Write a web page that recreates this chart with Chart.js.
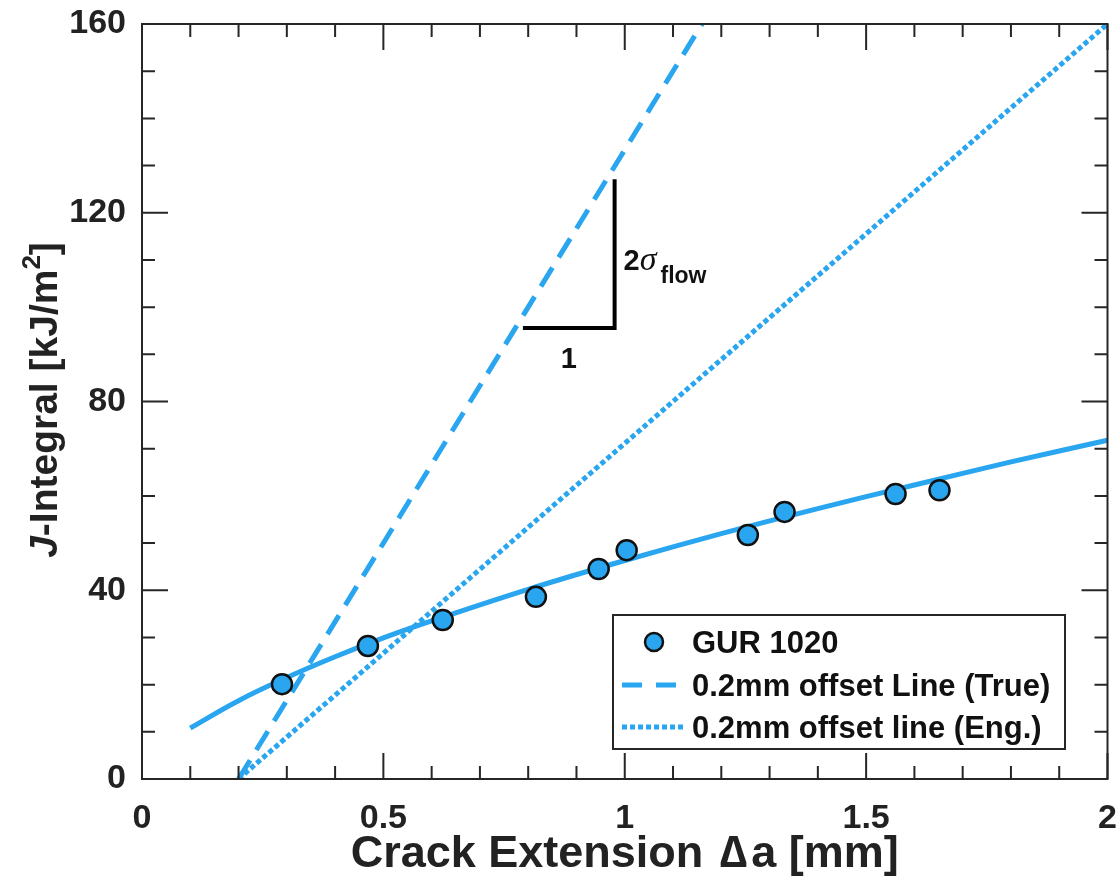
<!DOCTYPE html>
<html>
<head>
<meta charset="utf-8">
<script src="https://cdn.jsdelivr.net/npm/chart.js@4.4.1/dist/chart.umd.min.js"></script>
<style>
  html, body { margin: 0; padding: 0; background: #fff; }
  #wrap { width: 1120px; height: 890px; }
</style>
</head>
<body>
<div id="wrap"><canvas id="jr" width="1120" height="890"></canvas></div>
<script>
// measured points (GUR 1020)
const crackExt = [0.29, 0.468, 0.623, 0.816, 0.946, 1.004, 1.255, 1.331, 1.561, 1.652];
const jValues = [20.1, 28.2, 33.7, 38.6, 44.5, 48.5, 51.7, 56.6, 60.4, 61.2];

// fitted J-R curve
const fitX = [0.1, 0.2, 0.3, 0.4, 0.5, 0.6, 0.8, 1.0, 1.2, 1.4, 1.6, 1.8, 2.0];
const fitJ = [10.8, 16.6, 21.5, 25.9, 29.9, 33.5, 40.2, 46.3, 52.0, 57.3, 62.3, 67.2, 71.8];

// offset lines
const trueX = [0.2, 1.16];
const trueJ = [0, 160];
const engX = [0.2, 2.0];
const engJ = [0, 160];

// slope triangle
const triX = [0.789, 0.979, 0.979];
const triJ = [95.6, 95.6, 127.1];

const xTicks = [0, 0.5, 1, 1.5, 2];
const yTicks = [0, 40, 80, 120, 160];
const xMinor = [0.1, 0.2, 0.3, 0.4, 0.6, 0.7, 0.8, 0.9, 1.1, 1.2, 1.3, 1.4, 1.6, 1.7, 1.8, 1.9];
const yMinor = [10, 20, 30, 50, 60, 70, 90, 100, 110, 130, 140, 150];

const legendLabels = ['GUR 1020', '0.2mm offset Line (True)', '0.2mm offset line (Eng.)'];

const blue = 'rgb(41, 166, 239)';
const axisCol = '#262626';
const FONT = '"Liberation Sans", Arial, sans-serif';

function pts(xs, ys) {
    return xs.map((x, i) => ({ x: x, y: ys[i] }));
}

const framePlugin = {
    id: 'frame',
    afterDatasetsDraw(chart) {
        const ctx = chart.ctx;
        const a = chart.chartArea;
        const xs = chart.scales.x, ys = chart.scales.y;
        ctx.save();
        ctx.strokeStyle = axisCol;
        ctx.lineWidth = 2;
        ctx.strokeRect(a.left, a.top, a.right - a.left, a.bottom - a.top);

        // inward ticks on all four sides
        ctx.beginPath();
        const tick = (v, len, isX) => {
            if (isX) {
                const p = xs.getPixelForValue(v);
                ctx.moveTo(p, a.bottom); ctx.lineTo(p, a.bottom - len);
                ctx.moveTo(p, a.top); ctx.lineTo(p, a.top + len);
            } else {
                const p = ys.getPixelForValue(v);
                ctx.moveTo(a.left, p); ctx.lineTo(a.left + len, p);
                ctx.moveTo(a.right, p); ctx.lineTo(a.right - len, p);
            }
        };
        xTicks.forEach(v => tick(v, 26, true));
        xMinor.forEach(v => tick(v, 13, true));
        yTicks.forEach(v => tick(v, 26, false));
        yMinor.forEach(v => tick(v, 13, false));
        ctx.stroke();

        // slope triangle labels
        ctx.fillStyle = '#111';
        ctx.textBaseline = 'alphabetic';
        ctx.textAlign = 'center';
        ctx.font = 'bold 29px ' + FONT;
        const midX = xs.getPixelForValue((triX[0] + triX[1]) / 2);
        ctx.fillText('1', midX, ys.getPixelForValue(triJ[0]) + 40);
        const vx = xs.getPixelForValue(triX[1]) + 9;
        const vy = ys.getPixelForValue((triJ[1] + triJ[2]) / 2) + 16;
        ctx.textAlign = 'left';
        ctx.fillText('2', vx, vy);
        let w = ctx.measureText('2').width;
        ctx.font = 'italic 34px "Liberation Serif", "Times New Roman", serif';
        ctx.fillText('\u03C3', vx + w, vy);
        w += ctx.measureText('\u03C3').width + 4;
        ctx.font = 'bold 23px ' + FONT;
        ctx.fillText('flow', vx + w, vy + 13);

        // legend
        const lx = 613, ly = 615, lw = 452, lh = 134;
        ctx.fillStyle = '#fff';
        ctx.fillRect(lx, ly, lw, lh);
        ctx.strokeStyle = axisCol;
        ctx.lineWidth = 2;
        ctx.strokeRect(lx, ly, lw, lh);
        const rows = [642, 685, 727];
        ctx.font = 'bold 31px ' + FONT;
        ctx.textBaseline = 'middle';
        ctx.textAlign = 'left';
        legendLabels.forEach((lab, i) => {
            const y = rows[i];
            if (i === 0) {
                ctx.beginPath();
                ctx.arc(654, y, 9, 0, Math.PI * 2);
                ctx.fillStyle = blue;
                ctx.fill();
                ctx.lineWidth = 2.5;
                ctx.strokeStyle = '#111';
                ctx.stroke();
            } else {
                ctx.beginPath();
                ctx.strokeStyle = blue;
                ctx.lineWidth = 5;
                ctx.setLineDash(i === 1 ? [20, 14] : [5, 3]);
                ctx.moveTo(622, y); ctx.lineTo(686, y);
                ctx.stroke();
                ctx.setLineDash([]);
            }
            ctx.fillStyle = '#111';
            ctx.fillText(lab, 692, y + 2);
        });

        // axis titles
        ctx.fillStyle = '#222';
        ctx.font = 'bold 45px ' + FONT;
        ctx.textAlign = 'left';
        ctx.textBaseline = 'alphabetic';
        const xParts = ['Crack Extension ', '\u2206', 'a [mm]'];
        const gap = 4;
        let tw = gap * 2;
        xParts.forEach(s => { tw += ctx.measureText(s).width; });
        let tx = (a.left + a.right) / 2 - tw / 2;
        xParts.forEach((s, i) => {
            ctx.fillText(s, tx, 867);
            tx += ctx.measureText(s).width + (i < 2 ? gap : 0);
        });

        ctx.translate(57, 400);
        ctx.rotate(-Math.PI / 2);
        const parts = [
            ['italic bold 39px ' + FONT, 'J', 0],
            ['bold 39px ' + FONT, '-Integral [kJ/m', 0],
            ['bold 26px ' + FONT, '2', -17],
            ['bold 39px ' + FONT, ']', 0]
        ];
        let total = 0;
        parts.forEach(p => { ctx.font = p[0]; total += ctx.measureText(p[1]).width; });
        let cx = -total / 2;
        ctx.textAlign = 'left';
        parts.forEach(p => {
            ctx.font = p[0];
            ctx.fillText(p[1], cx, p[2]);
            cx += ctx.measureText(p[1]).width;
        });
        ctx.restore();
    }
};

new Chart(document.getElementById('jr'), {
    type: 'scatter',
    data: {
        datasets: [
            {
                label: legendLabels[0],
                data: pts(crackExt, jValues),
                showLine: false,
                pointRadius: 10,
                pointBackgroundColor: blue,
                pointBorderColor: '#111',
                pointBorderWidth: 2.5
            },
            {
                label: 'fit',
                data: pts(fitX, fitJ),
                showLine: true,
                borderColor: blue,
                borderWidth: 5,
                pointRadius: 0,
                tension: 0.4
            },
            {
                label: 'triangle',
                data: pts(triX, triJ),
                showLine: true,
                borderColor: '#000',
                borderWidth: 4,
                pointRadius: 0,
                borderJoinStyle: 'miter'
            },
            {
                label: legendLabels[1],
                data: pts(trueX, trueJ),
                showLine: true,
                borderColor: blue,
                borderWidth: 5,
                borderDash: [22, 12],
                pointRadius: 0
            },
            {
                label: legendLabels[2],
                data: pts(engX, engJ),
                showLine: true,
                borderColor: blue,
                borderWidth: 5,
                borderDash: [5, 3],
                pointRadius: 0
            }
        ]
    },
    options: {
        responsive: false,
        animation: false,
        devicePixelRatio: 1,
        layout: { padding: { left: 0, right: 12, top: 24, bottom: 0 } },
        plugins: {
            legend: { display: false },
            tooltip: { enabled: false }
        },
        scales: {
            x: {
                type: 'linear',
                min: 0,
                max: 2,
                afterBuildTicks: s => { s.ticks = xTicks.map(v => ({ value: v })); },
                afterFit: s => { s.height = 111; s.paddingLeft = 0; s.paddingRight = 0; },
                grid: { display: false, drawTicks: false },
                border: { display: false },
                ticks: {
                    padding: 19,
                    color: '#222',
                    font: { family: FONT, size: 34, weight: 'bold' },
                    maxRotation: 0,
                    callback: v => String(v)
                }
            },
            y: {
                type: 'linear',
                min: 0,
                max: 160,
                afterBuildTicks: s => { s.ticks = yTicks.map(v => ({ value: v })); },
                afterFit: s => { s.width = 142; s.paddingTop = 0; s.paddingBottom = 0; },
                grid: { display: false, drawTicks: false },
                border: { display: false },
                ticks: {
                    padding: 16,
                    color: '#222',
                    font: { family: FONT, size: 34, weight: 'bold' },
                    callback: v => String(v)
                }
            }
        }
    },
    plugins: [framePlugin]
});
</script>
</body>
</html>
